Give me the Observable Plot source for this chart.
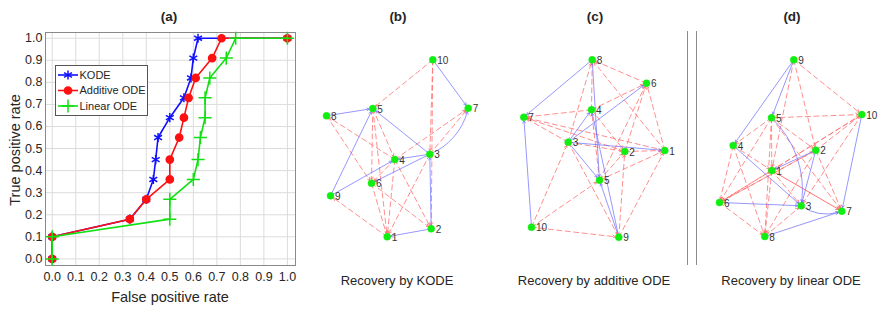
<!DOCTYPE html>
<html><head><meta charset="utf-8">
<script src="https://cdn.jsdelivr.net/npm/d3@7"></script>
<script src="https://cdn.jsdelivr.net/npm/@observablehq/plot@0.6"></script>
<style>
body{margin:0;background:#fff;}
#fig{position:relative;width:893px;height:312px;font-family:"Liberation Sans",Arial,Helvetica,sans-serif;color:#262626;overflow:hidden;background:#fff}
.t{position:absolute;white-space:nowrap;line-height:16px;transform:translateX(-50%);}
.panel{position:absolute}
</style></head><body><div id="fig"></div>
<script>
// ---------- Panel (a): ROC data ----------
const seriesNames = ["KODE", "Additive ODE", "Linear ODE"];
const tpr          = [0, 0.1, 0.18, 0.27, 0.36, 0.45, 0.55, 0.64, 0.73, 0.82, 0.91, 1.0, 1.0];
const fprKODE      = [0, 0,   0.33, 0.40, 0.43, 0.44, 0.45, 0.50, 0.56, 0.59, 0.60, 0.62, 1.0];
const fprAdditive  = [0, 0,   0.33, 0.40, 0.50, 0.50, 0.54, 0.56, 0.58, 0.61, 0.68, 0.72, 1.0];
const fprLinear    = [0, 0,   0.50, 0.50, 0.60, 0.62, 0.63, 0.65, 0.65, 0.67, 0.74, 0.78, 1.0];
const xTicks = [0, 0.1, 0.2, 0.3, 0.4, 0.5, 0.6, 0.7, 0.8, 0.9, 1.0];
const yTicks = [0, 0.1, 0.2, 0.3, 0.4, 0.5, 0.6, 0.7, 0.8, 0.9, 1.0];

// ---------- Panels (b)-(d): network layouts [id, x, y] and edges [from, to] ----------
const nodesB = [[1,76.7,13.7],[2,120.7,21.7],[3,119.3,96.3],[4,84.3,91],[5,62.3,142],[6,61,67.3],[7,157.7,142.3],[8,16,134.7],[9,20,54.7],[10,122.3,190.7]];
const blueB = [[10,7],[8,5],[9,5],[3,5],[3,4],[9,4],[3,6],[2,3],[2,1]];
const curvedB = [[3,7,-1]];
const redB = [[10,5],[10,3],[10,2],[4,7],[3,7],[4,8],[8,6],[5,6],[5,4],[5,1],[4,6],[4,2],[4,1],[6,2],[6,1],[3,1],[1,9]];
const solidRedB = [];

const nodesC = [[1,159.3,100],[2,119.3,99],[3,62.7,108.3],[4,86,140.7],[5,94,70.3],[6,141,167.3],[7,18.3,133.3],[8,86.7,190.7],[9,113.3,13.3],[10,26,23.3]];
const blueC = [[8,7],[10,7],[8,5],[9,5],[9,4],[3,4],[3,6],[3,5],[3,1]];
const curvedC = [];
const redC = [[6,8],[1,8],[3,8],[4,8],[4,6],[1,6],[5,6],[2,6],[4,7],[2,7],[3,7],[1,7],[4,2],[5,4],[10,3],[3,2],[3,9],[2,1],[5,2],[9,2],[5,1],[9,1],[10,5],[10,9]];
const solidRedC = [];

const nodesD = [[1,71.3,80],[2,115.3,100.3],[3,100.7,44.7],[4,32.7,105],[5,71,132.7],[6,19,48],[7,141.3,39.3],[8,64.3,14],[9,93.3,190.7],[10,161.3,136]];
const blueD = [[9,4],[9,5],[4,3],[2,1],[2,3],[10,7],[6,3],[8,7]];
const curvedD = [[5,3,1],[3,7,-1]];
const redD = [[9,10],[9,2],[9,1],[5,10],[5,2],[5,4],[5,6],[5,1],[5,8],[4,6],[4,1],[4,8],[2,10],[2,6],[2,7],[1,6],[1,8],[10,3],[10,6],[6,8],[8,3],[1,3],[2,8],[5,7],[10,1],[6,2]];
const solidRedD = [[1,7]];

const panelTitles = ["(a)", "(b)", "(c)", "(d)"];
const captions = ["Recovery by KODE", "Recovery by additive ODE", "Recovery by linear ODE"];

// ---------- styles ----------
const colors = ["#1010ff", "#ff1010", "#10e010"];
const symbols = ["asterisk", "circle", "plus"];
const FONT = '"Liberation Sans", Arial, Helvetica, sans-serif';
const fig = document.getElementById("fig");

function place(el, left, top, w) {
  const d = document.createElement("div");
  d.className = "panel";
  d.style.left = left + "px"; d.style.top = top + "px"; d.style.width = w + "px";
  d.appendChild(el); fig.appendChild(d);
}
function text(str, cx, top, size, bold, extra) {
  const d = document.createElement("div");
  d.className = "t"; d.textContent = str;
  d.style.left = cx + "px"; d.style.top = top + "px";
  d.style.fontSize = size + "px"; if (bold) d.style.fontWeight = "bold";
  if (extra) Object.assign(d.style, extra);
  fig.appendChild(d);
}

// ---------- (a) ROC ----------
const fprs = [fprKODE, fprAdditive, fprLinear];
const rocMarks = [];
seriesNames.forEach((name, i) => {
  const pts = fprs[i].map((x, j) => ({x, y: tpr[j]}));
  rocMarks.push(Plot.line(pts, {x: "x", y: "y", stroke: colors[i], strokeWidth: 1.6}));
  rocMarks.push(Plot.dot(pts, {x: "x", y: "y", symbol: symbols[i], r: i === 1 ? 3.6 : 4.3,
    fill: i === 1 ? colors[i] : "none", stroke: colors[i], strokeWidth: 1.5}));
});
const roc = Plot.plot({
  width: 300, height: 312,
  marginLeft: 45, marginRight: 5, marginTop: 32, marginBottom: 47,
  x: {domain: [-0.0285, 1.0344]},
  y: {domain: [-0.030, 1.026]},
  style: {fontFamily: FONT, fontSize: "12.5px", color: "#262626", background: "transparent"},
  marks: [
    Plot.gridX(xTicks, {stroke: "#dcdcdc", strokeOpacity: 1}),
    Plot.gridY(yTicks, {stroke: "#dcdcdc", strokeOpacity: 1}),
    Plot.frame({stroke: "#8a8a8a"}),
    Plot.axisX(xTicks, {tickSize: 0, tickPadding: 7, tickFormat: ".1f", label: null}),
    Plot.axisY(yTicks, {tickSize: 0, tickPadding: 3, tickFormat: ".1f", label: null}),
    ...rocMarks
  ]
});
place(roc, 0, 0, 300);

// legend
const leg = d3.select(fig).append("svg")
  .attr("width", 96).attr("height", 54)
  .style("position", "absolute").style("left", "54px").style("top", "64px");
leg.append("rect").attr("x", 1.5).attr("y", 1.5).attr("width", 92).attr("height", 50)
  .attr("fill", "#fff").attr("stroke", "#555").attr("stroke-width", 1);
const symMap = {asterisk: d3.symbolAsterisk, circle: d3.symbolCircle, plus: d3.symbolPlus};
seriesNames.forEach((name, i) => {
  const y = 11 + i * 15.5;
  leg.append("line").attr("x1", 4).attr("x2", 24).attr("y1", y).attr("y2", y)
    .attr("stroke", colors[i]).attr("stroke-width", 1.6);
  const r = i === 1 ? 3.6 : 4.3;
  leg.append("path").attr("d", d3.symbol(symMap[symbols[i]], Math.PI * r * r)())
    .attr("transform", `translate(14,${y})`)
    .attr("fill", i === 1 ? colors[i] : "none").attr("stroke", colors[i]).attr("stroke-width", 1.5);
  leg.append("text").attr("x", 25.5).attr("y", y).attr("dy", "0.35em")
    .attr("font-family", FONT).attr("font-size", 11).attr("fill", "#262626").text(name);
});

// axis titles
text("False positive rate", 170, 289, 14.5, false);
text("True positive rate", 15, 142, 14.5, false, {transform: "translateX(-50%) rotate(-90deg)", transformOrigin: "50% 50%"});

// ---------- network panels ----------
function graph(nodes, blue, curved, red, solidRed) {
  const pos = new Map(nodes.map(([id, x, y]) => [id, {x, y}]));
  const edge = ([s, t]) => ({x1: pos.get(s).x, y1: pos.get(s).y, x2: pos.get(t).x, y2: pos.get(t).y});
  const enc = {x1: "x1", y1: "y1", x2: "x2", y2: "y2", headLength: 5, insetEnd: 3.5};
  const blueStyle = {stroke: "#6e6eff", strokeWidth: 0.8, strokeOpacity: 0.9};
  return Plot.plot({
    width: 190, height: 205, margin: 0,
    x: {domain: [0, 190], axis: null},
    y: {domain: [0, 205], axis: null},
    style: {fontFamily: FONT, background: "transparent", overflow: "visible"},
    marks: [
      Plot.arrow(red.map(edge), {...enc, stroke: "#ff6a6a", strokeWidth: 0.9, strokeOpacity: 0.85, strokeDasharray: "5,3.5"}),
      Plot.arrow(solidRed.map(edge), {...enc, stroke: "#ff5050", strokeWidth: 0.9, strokeOpacity: 0.9}),
      Plot.arrow(blue.map(edge), {...enc, ...blueStyle}),
      ...curved.map(e => Plot.arrow([edge(e)], {...enc, ...blueStyle, bend: 28 * e[2]})),
      Plot.dot(nodes, {x: d => d[1], y: d => d[2], r: 3.5, fill: "#11ee11", stroke: "#11ee11", strokeWidth: 0.5}),
      Plot.text(nodes, {x: d => d[1], y: d => d[2], text: d => String(d[0]), dx: 4.5, dy: 1, textAnchor: "start", fontSize: 10, fill: "#333"})
    ]
  });
}
place(graph(nodesB, blueB, curvedB, redB, solidRedB), 310, 45, 190);
place(graph(nodesC, blueC, curvedC, redC, solidRedC), 505, 45, 190);
place(graph(nodesD, blueD, curvedD, redD, solidRedD), 700, 45, 190);

// separator (double line)
[687, 696].forEach(x => {
  const d = document.createElement("div");
  Object.assign(d.style, {position: "absolute", left: x + "px", top: "31px", width: "1px", height: "234px", background: "#8c8c8c"});
  fig.appendChild(d);
});

// titles and captions
[169, 398, 595, 792].forEach((cx, i) => text(panelTitles[i], cx, 9, 13.5, true));
[397, 594, 791].forEach((cx, i) => text(captions[i], cx, 273, 13, false));
</script></body></html>
